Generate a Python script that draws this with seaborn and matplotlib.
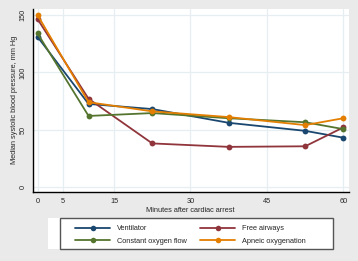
import pandas as pd
import matplotlib
matplotlib.use("Agg")
import matplotlib.pyplot as plt
import seaborn as sns
from matplotlib.patches import Rectangle

# minutes after cardiac arrest (midpoints of sampling intervals)
minutes = [0, 10, 22.5, 37.5, 52.5, 60]

ventilator = [131, 72.5, 68, 56, 49, 43]
free_airways = [146.5, 77, 38, 35, 35.5, 52]
constant_o2 = [134, 62, 64.5, 60, 56.5, 50.5]
apneic_o2 = [150, 74, 66, 61, 54, 60]

groups = ["Ventilator", "Free airways", "Constant oxygen flow", "Apneic oxygenation"]
colors = ["#1a476f", "#90353b", "#55752f", "#e37e00"]

x_ticks = [0, 5, 15, 30, 45, 60]
y_ticks = [0, 50, 100, 150]

frames = []
for name, vals in zip(groups, [ventilator, free_airways, constant_o2, apneic_o2]):
    frames.append(pd.DataFrame({"minute": minutes, "sbp": vals, "group": name}))
df = pd.concat(frames, ignore_index=True)

sns.set_style("white")
plt.rcParams['font.family'] = ['Liberation Sans', 'DejaVu Sans']
fs = 5.3
W, H = 358, 261

bg = "#eaeaea"
fig = plt.figure(figsize=(3.58, 2.61), dpi=100, facecolor=bg)
ax = fig.add_axes([0.0908, 0.2644, 0.884, 0.703])
ax.set_facecolor("white")

for v in x_ticks:
    ax.axvline(v, color="#e6eef1", lw=0.9, zorder=0)
for v in y_ticks:
    ax.axhline(v, color="#e6eef1", lw=0.9, zorder=0)

sns.lineplot(data=df, x="minute", y="sbp", hue="group", hue_order=groups,
             palette=colors, marker="o", markersize=4.2, markeredgewidth=0,
             linewidth=1.3, ax=ax, legend=False, zorder=3)

ax.set_xlim(-1.0, 61.1)
ax.set_ylim(-4.4, 155.8)
ax.set_xticks(x_ticks)
ax.set_yticks(y_ticks)
ax.tick_params(axis="both", direction="out", length=3, width=0.8,
               labelsize=fs, color="black", pad=1.5)
for lab in ax.get_yticklabels():
    lab.set_rotation(90)
    lab.set_va("center")

sns.despine(ax=ax, top=True, right=True)
for side in ["left", "bottom"]:
    ax.spines[side].set_color("black")
    ax.spines[side].set_linewidth(1.0)

ax.set_xlabel("Minutes after cardiac arrest", fontsize=fs, labelpad=1.5)
ax.set_ylabel("Median systolic blood pressure, mm Hg", fontsize=fs, labelpad=1)

# legend box drawn separately, entries placed inside it
fig.patches.append(Rectangle((48 / W, 1 - 249 / H), 12 / W, 31 / H,
                             transform=fig.transFigure, facecolor="white",
                             edgecolor="none", zorder=0))
fig.patches.append(Rectangle((60 / W, 1 - 249 / H), 273 / W, 31 / H,
                             transform=fig.transFigure, facecolor="white",
                             edgecolor="#555555", linewidth=1.0, zorder=0))

# two columns, filled row by row like Stata
order = [0, 2, 1, 3]
leg_handles = [plt.Line2D([], [], color=colors[i], marker="o", markersize=4,
                          markeredgewidth=0, linewidth=1.3) for i in order]
leg_labels = [groups[i] for i in order]
leg = fig.legend(leg_handles, leg_labels, ncol=2, loc="center left",
                 bbox_to_anchor=(75 / W, 1 - 235 / H),
                 bbox_transform=fig.transFigure,
                 fontsize=fs, handlelength=4.8, handletextpad=0.9,
                 columnspacing=1.8, borderpad=0, labelspacing=0.75,
                 frameon=False, borderaxespad=0)

fig.savefig("out.png", dpi=100, facecolor=bg)
